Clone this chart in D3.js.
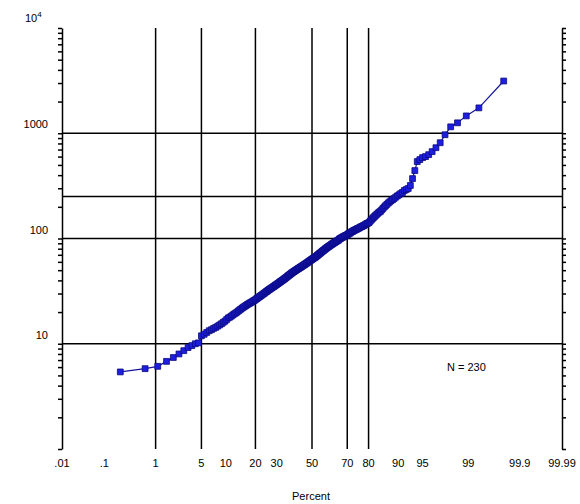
<!DOCTYPE html>
<html>
<head>
<meta charset="utf-8">
<script src="https://cdn.jsdelivr.net/npm/d3@7"></script>
<style>
  body { margin: 0; background: #fff; }
  text { font-family: "Liberation Sans", Arial, sans-serif; fill: #000; }
</style>
</head>
<body>
<div id="chart"></div>
<script>
// sorted sample values (N = 230)
var values = [
  5.4, 5.8, 6.1, 6.8, 7.4, 8.0, 8.6, 9.2, 9.6, 10.0,
  10.2, 11.9, 12.3, 12.8, 13.3, 13.6, 14.0, 14.3, 14.7, 15.1,
  15.5, 16.0, 16.4, 17.0, 17.6, 17.9, 18.3, 18.8, 19.2, 19.6,
  20.0, 20.5, 21.0, 21.4, 21.9, 22.3, 22.7, 23.1, 23.5, 23.9,
  24.2, 24.6, 24.9, 25.3, 25.7, 26.0, 26.5, 26.9, 27.4, 27.8,
  28.2, 28.7, 29.1, 29.6, 30.0, 30.5, 31.0, 31.4, 31.9, 32.4,
  32.8, 33.3, 33.7, 34.1, 34.6, 35.0, 35.5, 36.0, 36.4, 36.9,
  37.4, 37.9, 38.4, 38.9, 39.4, 39.9, 40.4, 40.9, 41.5, 42.0,
  42.6, 43.2, 43.8, 44.4, 45.0, 45.6, 46.2, 46.8, 47.4, 48.0,
  48.5, 49.0, 49.6, 50.1, 50.7, 51.2, 51.8, 52.3, 52.9, 53.4,
  54.0, 54.6, 55.2, 55.8, 56.4, 57.0, 57.6, 58.3, 58.9, 59.6,
  60.3, 61.0, 61.7, 62.4, 63.1, 63.8, 64.5, 65.2, 65.8, 66.5,
  67.4, 68.3, 69.2, 70.2, 71.1, 72.1, 73.0, 74.0, 75.0, 76.0,
  77, 78, 79, 80, 81, 82, 83, 84, 85, 86,
  87, 88, 89, 90, 91, 92, 93, 94, 95, 96,
  97, 99, 100, 101, 102, 103, 104, 105, 106, 107,
  108, 109, 111, 112, 113, 115, 116, 117, 119, 120,
  121, 122, 124, 125, 126, 128, 129, 130, 132, 133,
  135, 137, 139, 140, 142, 146, 150, 154, 158, 162,
  166, 170, 174, 178, 181, 187, 193, 199, 205, 211,
  217, 223, 229, 234, 240, 247, 254, 260, 267, 274,
  286, 292, 299, 319, 371, 442, 538, 562, 587, 600,
  626, 669, 729, 813, 968, 1151, 1256, 1462, 1742, 3135
];

var percentTicks = [0.01, 0.1, 1, 5, 10, 20, 30, 50, 70, 80, 90, 95, 99, 99.9, 99.99];
var percentLabels = [".01", ".1", "1", "5", "10", "20", "30", "50", "70", "80", "90", "95", "99", "99.9", "99.99"];
var percentGrid = [1, 5, 20, 50, 70, 80];
var valueGrid = [10, 100, 250, 1000];
var valueTicks = [10, 100, 1000];
var valueLabels = ["10", "100", "1000"];

var width = 580, height = 504;
var plotLeft = 62, plotRight = 562, plotTop = 28, plotBottom = 449;

// inverse of the standard normal cdf (Acklam)
function probit(p) {
    var a = [-39.69683028665376, 220.9460984245205, -275.9285104469687, 138.3577518672690, -30.66479806614716, 2.506628277459239];
    var b = [-54.47609879822406, 161.5858368580409, -155.6989798598866, 66.80131188771972, -13.28068155288572];
    var c = [-0.007784894002430293, -0.3223964580411365, -2.400758277161838, -2.549732539343734, 4.374664141464968, 2.938163982698783];
    var d = [0.007784695709041462, 0.3224671290700398, 2.445134137142996, 3.754408661907416];
    var q, r;
    if (p < 0.02425) {
        q = Math.sqrt(-2 * Math.log(p));
        return (((((c[0]*q+c[1])*q+c[2])*q+c[3])*q+c[4])*q+c[5]) / ((((d[0]*q+d[1])*q+d[2])*q+d[3])*q+1);
    } else if (p > 1 - 0.02425) {
        q = Math.sqrt(-2 * Math.log(1 - p));
        return -(((((c[0]*q+c[1])*q+c[2])*q+c[3])*q+c[4])*q+c[5]) / ((((d[0]*q+d[1])*q+d[2])*q+d[3])*q+1);
    }
    q = p - 0.5;
    r = q * q;
    return (((((a[0]*r+a[1])*r+a[2])*r+a[3])*r+a[4])*r+a[5])*q / (((((b[0]*r+b[1])*r+b[2])*r+b[3])*r+b[4])*r+1);
}

var z = d3.scaleLinear().domain([probit(0.0001), probit(0.9999)]).range([plotLeft, plotRight]);
var x = function (pct) { return z(probit(pct / 100)); };
var y = d3.scaleLog().domain([1, 10000]).range([plotBottom, plotTop]);

var n = values.length;
var points = values.map(function (v, i) {
    return { pct: (i + 0.5) / n * 100, v: v };
});

var svg = d3.select("#chart").append("svg")
    .attr("width", width)
    .attr("height", height);

// minor ticks on both value axes
var minor = [];
[1, 10, 100, 1000].forEach(function (dec) {
    for (var k = 1; k <= 10; k++) minor.push(dec * k);
});
minor = Array.from(new Set(minor));

svg.append("g")
    .attr("transform", "translate(" + plotLeft + ",0)")
    .call(d3.axisLeft(y).tickValues(minor).tickFormat("").tickSize(4).tickSizeOuter(0))
    .call(function (g) {
        g.selectAll("line, path").attr("stroke", "#000").attr("stroke-width", 1.5);
    });

svg.append("g")
    .attr("transform", "translate(" + plotRight + ",0)")
    .call(d3.axisRight(y).tickValues(minor).tickFormat("").tickSize(4).tickSizeOuter(0))
    .call(function (g) {
        g.selectAll("line, path").attr("stroke", "#000").attr("stroke-width", 1.5);
    });

// grid lines
svg.append("g").selectAll("line")
    .data(valueGrid)
    .enter().append("line")
    .attr("x1", plotLeft).attr("x2", plotRight)
    .attr("y1", function (d) { return y(d); })
    .attr("y2", function (d) { return y(d); })
    .attr("stroke", "#000").attr("stroke-width", 1.5);

svg.append("g").selectAll("line")
    .data(percentGrid)
    .enter().append("line")
    .attr("x1", function (d) { return x(d); })
    .attr("x2", function (d) { return x(d); })
    .attr("y1", plotTop).attr("y2", plotBottom)
    .attr("stroke", "#000").attr("stroke-width", 1.5);

// value labels (sit a little above their lines)
svg.append("g").selectAll("text")
    .data(valueTicks)
    .enter().append("text")
    .attr("x", 48)
    .attr("y", function (d) { return y(d) - 5; })
    .attr("text-anchor", "end")
    .attr("font-size", 11)
    .text(function (d, i) { return valueLabels[i]; });

var topLabel = svg.append("text")
    .attr("x", 25)
    .attr("y", y(10000) - 6)
    .attr("font-size", 11);
topLabel.append("tspan").text("10");
topLabel.append("tspan").attr("dy", -5).attr("font-size", 8).text("4");

// percent labels
svg.append("g").selectAll("text")
    .data(percentTicks)
    .enter().append("text")
    .attr("x", function (d) { return x(d); })
    .attr("y", 467)
    .attr("text-anchor", "middle")
    .attr("font-size", 11)
    .text(function (d, i) { return percentLabels[i]; });

svg.append("text")
    .attr("x", 311)
    .attr("y", 500)
    .attr("text-anchor", "middle")
    .attr("font-size", 11)
    .text("Percent");

svg.append("text")
    .attr("x", 447)
    .attr("y", 371)
    .attr("font-size", 11)
    .text("N = 230");

// data
var line = d3.line()
    .x(function (d) { return x(d.pct); })
    .y(function (d) { return y(d.v); });

svg.append("path")
    .datum(points)
    .attr("d", line)
    .attr("fill", "none")
    .attr("stroke", "#14149a")
    .attr("stroke-width", 1.2);

svg.append("g").selectAll("path")
    .data(points)
    .enter().append("path")
    .attr("transform", function (d) { return "translate(" + x(d.pct) + "," + y(d.v) + ")"; })
    .attr("d", d3.symbol().type(d3.symbolSquare).size(34))
    .attr("fill", "#1e1ee0")
    .attr("stroke", "#0a0a80")
    .attr("stroke-width", 0.8);
</script>
</body>
</html>
